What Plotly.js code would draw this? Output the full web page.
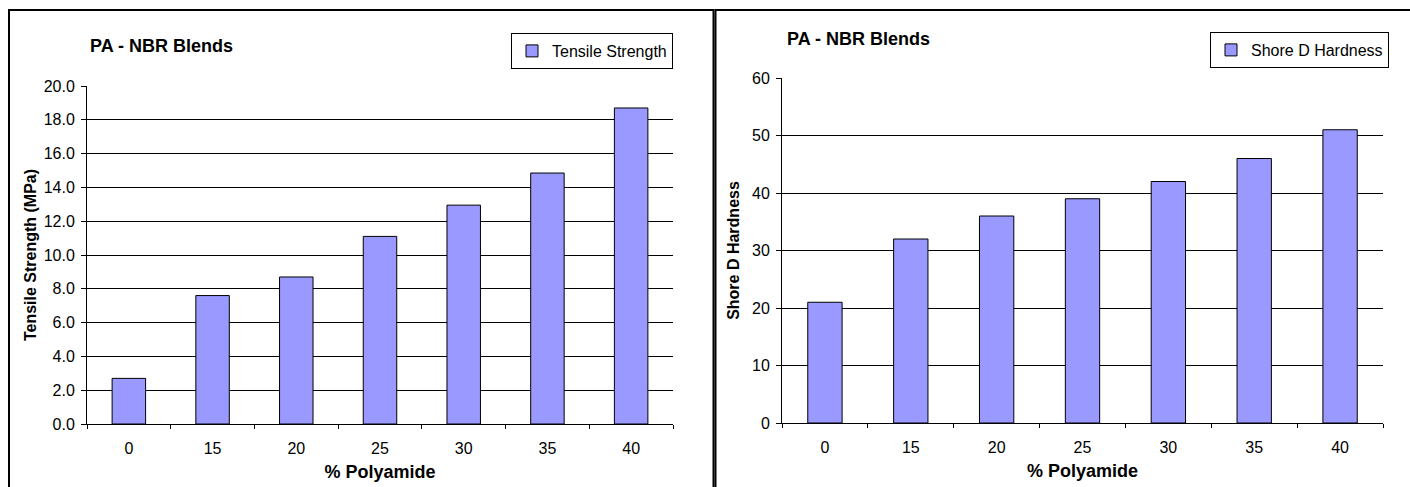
<!DOCTYPE html>
<html>
<head>
<meta charset="utf-8">
<script src="https://cdn.plot.ly/plotly-3.0.1.min.js"></script>
<style>
  html, body { margin: 0; padding: 0; background: #ffffff; }
  #chart { width: 1410px; height: 487px; }
</style>
</head>
<body>
<div id="chart"></div>
<script>
// ---- data ----
const categories = ['0', '15', '20', '25', '30', '35', '40'];
const tensileStrength = [2.7, 7.6, 8.7, 11.1, 12.95, 14.85, 18.7];
const shoreDHardness = [21, 32, 36, 39, 42, 46, 51];
const chartTitle = 'PA - NBR Blends';
const xTitle = '% Polyamide';
const leftYTitle = 'Tensile Strength (MPa)';
const rightYTitle = 'Shore D Hardness';
const leftSeriesName = 'Tensile Strength';
const rightSeriesName = 'Shore D Hardness';

// ---- layout helpers ----
const W = 1410, H = 487;
const FONT = 'Arial, "Liberation Sans", Helvetica, sans-serif';
const px = v => v / W;
const py = v => (H - v) / H;

const barStyle = { color: '#9999FF', line: { color: '#000000', width: 1 } };

const traces = [
  {
    type: 'bar', x: categories, y: tensileStrength, name: leftSeriesName,
    xaxis: 'x', yaxis: 'y', marker: barStyle, showlegend: true, legend: 'legend',
    hoverinfo: 'x+y'
  },
  {
    type: 'bar', x: categories, y: shoreDHardness, name: rightSeriesName,
    xaxis: 'x2', yaxis: 'y2', marker: barStyle, showlegend: true, legend: 'legend2',
    hoverinfo: 'x+y'
  }
];

function xAxis(domain, anchor) {
  return {
    domain: domain, anchor: anchor, type: 'category',
    showline: true, linecolor: '#000000', linewidth: 1,
    ticks: 'outside', tickson: 'boundaries', ticklen: 4, tickcolor: '#000000', tickwidth: 1,
    showgrid: false, zeroline: false,
    tickfont: { family: FONT, size: 16, color: '#000000' },
    ticklabelstandoff: 10,
    title: { text: xTitle, font: { family: FONT, size: 18, color: '#000000', weight: 'bold' }, standoff: 9 },
    fixedrange: true
  };
}
function yAxis(domain, anchor, range, dtick, fmt, titleText, standoff) {
  return {
    domain: domain, anchor: anchor, range: range, dtick: dtick, tick0: 0, tickformat: fmt,
    showline: true, linecolor: '#000000', linewidth: 1,
    ticks: 'outside', ticklen: 5, tickcolor: '#000000', tickwidth: 1,
    showgrid: true, gridcolor: '#000000', gridwidth: 1, zeroline: false,
    tickfont: { family: FONT, size: 16, color: '#000000' },
    ticklabelstandoff: 3,
    title: { text: titleText, font: { family: FONT, size: 16, color: '#000000', weight: 'bold' }, standoff: standoff },
    fixedrange: true
  };
}

const layout = {
  width: W, height: H,
  margin: { l: 0, r: 0, t: 0, b: 0, pad: 0 },
  paper_bgcolor: '#ffffff', plot_bgcolor: '#ffffff',
  font: { family: FONT, color: '#000000' },
  bargap: 0.6,
  xaxis: xAxis([px(87), px(673)], 'y'),
  yaxis: yAxis([py(424), py(86)], 'x', [0, 20], 2, '.1f', leftYTitle, 3),
  xaxis2: xAxis([px(782), px(1383)], 'y2'),
  yaxis2: yAxis([py(423), py(78)], 'x2', [0, 60], 10, 'd', rightYTitle, 8),
  legend: {
    x: px(673), y: py(33), xanchor: 'right', yanchor: 'top',
    bgcolor: '#ffffff', bordercolor: '#000000', borderwidth: 1,
    font: { family: FONT, size: 16, color: '#000000' }
  },
  legend2: {
    x: px(1389), y: py(32), xanchor: 'right', yanchor: 'top',
    bgcolor: '#ffffff', bordercolor: '#000000', borderwidth: 1,
    font: { family: FONT, size: 16, color: '#000000' }
  },
  annotations: [
    { text: '<b>' + chartTitle + '</b>', xref: 'paper', yref: 'paper', x: px(88), y: py(46),
      xanchor: 'left', yanchor: 'middle', showarrow: false,
      font: { family: FONT, size: 18, color: '#000000' } },
    { text: '<b>' + chartTitle + '</b>', xref: 'paper', yref: 'paper', x: px(785), y: py(39),
      xanchor: 'left', yanchor: 'middle', showarrow: false,
      font: { family: FONT, size: 18, color: '#000000' } }
  ],
  shapes: [
    { type: 'rect', xref: 'paper', yref: 'paper', x0: px(9), x1: px(713.5), y0: py(500), y1: py(10),
      line: { color: '#000000', width: 2 }, fillcolor: 'rgba(0,0,0,0)', layer: 'above' },
    { type: 'rect', xref: 'paper', yref: 'paper', x0: px(715.5), x1: px(1420), y0: py(500), y1: py(10),
      line: { color: '#000000', width: 2 }, fillcolor: 'rgba(0,0,0,0)', layer: 'above' }
  ],
  showlegend: true
};

Plotly.newPlot('chart', traces, layout, { displayModeBar: false, staticPlot: true });
</script>
</body>
</html>
